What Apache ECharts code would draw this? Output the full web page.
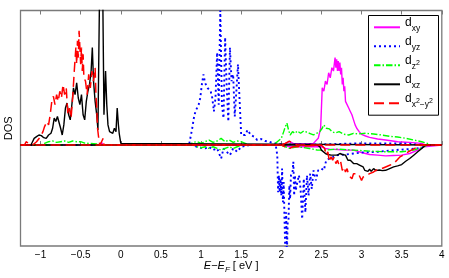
<!DOCTYPE html>
<html><head><meta charset="utf-8">
<script src="https://cdn.jsdelivr.net/npm/echarts@6/dist/echarts.min.js"></script>
<style>html,body{margin:0;padding:0;background:#fff}#c{width:449px;height:278px}</style>
</head><body><div id="c"></div>
<script>
// x tick labels
const xTicks = [-1, -0.5, 0, 0.5, 1, 1.5, 2, 2.5, 3, 3.5, 4];
const orbitals = ['dxy', 'dyz', 'dz2', 'dxz', 'dx2y2'];
const legendLabels = {
  dxy: '{d|d}{sub|xy}',
  dyz: '{d|d}{sub|yz}',
  dz2: '{d|d}{sub|z}{sup|2}',
  dxz: '{d|d}{sub|xz}',
  dx2y2: '{d|d}{sub|x}{sup|2}{sub|\u2212y}{sup|2}'
};
// [energy (eV), DOS] spin up (positive) and spin down (negative)
const dxyUp = [[-1.25,0],[-0.26,0],[-0.24,0.08],[-0.22,0],[2.0,0],[2.05,0.05],[2.1,0.1],[2.15,0.05],[2.3,0.03],[2.4,0.05],[2.46,0.2],[2.49,0.5],[2.51,1.7],[2.53,1.6],[2.55,1.9],[2.57,1.8],[2.59,2.15],[2.61,2.0],[2.63,2.3],[2.65,2.2],[2.67,2.6],[2.68,2.3],[2.69,2.55],[2.7,2.2],[2.71,2.5],[2.72,2.2],[2.73,2.45],[2.74,2.1],[2.75,2.3],[2.76,1.8],[2.77,2.0],[2.78,1.6],[2.79,1.75],[2.8,1.3],[2.82,1.35],[2.84,1.1],[2.86,1.0],[2.88,0.9],[2.9,0.75],[2.92,0.6],[2.94,0.5],[2.97,0.4],[3.0,0.32],[3.05,0.27],[3.1,0.23],[3.2,0.18],[3.3,0.15],[3.45,0.1],[3.6,0.08],[3.75,0.05],[3.8,0],[4,0]];
const dxyDn = [[-1.25,0],[2.0,0],[2.1,-0.05],[2.5,-0.05],[2.55,-0.1],[2.6,-0.12],[2.7,-0.13],[2.8,-0.15],[2.9,-0.15],[3.0,-0.22],[3.1,-0.28],[3.2,-0.3],[3.3,-0.32],[3.4,-0.31],[3.5,-0.3],[3.6,-0.25],[3.7,-0.15],[3.78,-0.05],[3.8,0],[4,0]];
const dyzUp = [[-1.25,0],[0.85,0],[0.87,0.05],[0.89,0.5],[0.91,0.8],[0.93,1.0],[0.95,0.95],[0.97,1.2],[0.99,1.4],[1.01,1.8],[1.03,2.1],[1.05,1.85],[1.07,1.9],[1.08,1.7],[1.1,1.75],[1.12,1.6],[1.14,1.4],[1.16,1.0],[1.18,1.4],[1.2,2.75],[1.22,1.2],[1.24,4.0],[1.26,1.2],[1.28,0.8],[1.3,3.2],[1.32,1.7],[1.34,0.7],[1.36,2.9],[1.38,1.9],[1.4,2.1],[1.42,0.85],[1.44,1.6],[1.46,2.4],[1.48,1.35],[1.5,0.3],[1.52,0.35],[1.55,0.3],[1.58,0.45],[1.62,0.3],[1.66,0.25],[1.7,0.15],[1.75,0.18],[1.8,0.12],[1.85,0.1],[1.9,0.05],[1.95,0.05],[2.0,0.02],[2.5,0.02],[3.0,0.05],[3.5,0.05],[3.8,0],[4,0]];
const dyzDn = [[-1.25,0],[0.9,0],[0.95,-0.05],[1.0,-0.08],[1.05,-0.1],[1.1,-0.05],[1.15,-0.15],[1.2,-0.1],[1.25,-0.4],[1.28,-0.1],[1.32,-0.2],[1.36,-0.3],[1.4,-0.1],[1.45,-0.2],[1.5,-0.05],[1.6,0],[1.93,0],[1.95,-0.3],[1.96,-1.4],[1.97,-0.9],[1.98,-1.4],[1.99,-1.0],[2.0,-1.5],[2.01,-0.7],[2.02,-1.7],[2.03,-1.1],[2.04,-2.2],[2.05,-3.2],[2.06,-2.0],[2.07,-3.2],[2.08,-2.3],[2.09,-2.2],[2.1,-1.2],[2.11,-1.6],[2.12,-0.9],[2.14,-0.8],[2.15,-0.5],[2.16,-1.5],[2.17,-0.9],[2.18,-1.35],[2.2,-1.1],[2.22,-0.9],[2.24,-1.3],[2.26,-2.2],[2.28,-1.0],[2.3,-2.0],[2.32,-0.9],[2.34,-1.5],[2.36,-0.85],[2.38,-1.3],[2.4,-0.75],[2.43,-1.05],[2.46,-0.75],[2.5,-0.7],[2.53,-0.75],[2.56,-0.45],[2.6,-0.4],[2.65,-0.35],[2.7,-0.3],[2.8,-0.28],[2.9,-0.25],[3.0,-0.22],[3.2,-0.2],[3.4,-0.15],[3.6,-0.12],[3.75,-0.08],[3.8,0],[4,0]];
const dz2Up = [[-1.25,0],[-1.0,0],[-0.95,0.05],[-0.9,0.1],[-0.85,0.12],[-0.8,0.08],[-0.75,0.1],[-0.7,0.12],[-0.65,0.08],[-0.6,0.12],[-0.55,0.1],[-0.5,0.1],[-0.45,0.06],[-0.4,0.05],[-0.3,0.03],[-0.2,0],[0.85,0],[0.9,0.08],[0.95,0.1],[1.0,0.05],[1.05,0.1],[1.1,0.15],[1.15,0.08],[1.2,0.12],[1.25,0.2],[1.3,0.1],[1.35,0.15],[1.4,0.08],[1.45,0.12],[1.5,0.1],[1.55,0.05],[1.6,0],[1.9,0],[1.95,0.1],[2.0,0.2],[2.03,0.4],[2.05,0.55],[2.07,0.65],[2.09,0.45],[2.11,0.3],[2.14,0.4],[2.17,0.35],[2.2,0.42],[2.24,0.35],[2.28,0.42],[2.32,0.38],[2.36,0.34],[2.4,0.3],[2.44,0.35],[2.48,0.4],[2.51,0.5],[2.53,0.6],[2.56,0.5],[2.6,0.48],[2.63,0.4],[2.67,0.36],[2.72,0.4],[2.78,0.32],[2.84,0.3],[2.9,0.35],[2.96,0.33],[3.05,0.35],[3.15,0.33],[3.25,0.3],[3.35,0.26],[3.45,0.24],[3.55,0.2],[3.65,0.15],[3.75,0.1],[3.82,0.05],[3.85,0],[4,0]];
const dz2Dn = [[-1.25,0],[0.9,0],[0.95,-0.05],[1.0,-0.08],[1.05,-0.05],[1.1,-0.1],[1.15,-0.05],[1.2,-0.1],[1.25,-0.15],[1.3,-0.1],[1.35,-0.05],[1.4,-0.1],[1.45,-0.05],[1.5,0],[2.0,0],[2.05,-0.05],[2.1,-0.1],[2.2,-0.05],[2.35,-0.1],[2.45,-0.15],[2.55,-0.15],[2.7,-0.12],[2.9,-0.15],[3.1,-0.18],[3.3,-0.2],[3.5,-0.2],[3.65,-0.15],[3.75,-0.08],[3.82,0],[4,0]];
const dxzUp = [[-1.25,0],[-1.12,0],[-1.1,0.1],[-1.08,0.2],[-1.05,0.25],[-1.02,0.3],[-0.99,0.28],[-0.96,0.22],[-0.93,0.2],[-0.9,0.3],[-0.87,0.35],[-0.85,0.5],[-0.83,0.8],[-0.81,0.7],[-0.79,0.85],[-0.77,0.8],[-0.75,0.5],[-0.73,0.3],[-0.71,0.6],[-0.69,1.1],[-0.67,1.25],[-0.65,0.9],[-0.63,0.75],[-0.61,1.2],[-0.59,1.7],[-0.57,1.5],[-0.55,1.85],[-0.53,1.4],[-0.51,1.2],[-0.49,1.5],[-0.47,0.9],[-0.45,0.75],[-0.43,1.3],[-0.41,1.6],[-0.39,1.8],[-0.37,2.2],[-0.355,2.9],[-0.34,1.9],[-0.32,1.3],[-0.3,0.9],[-0.285,0.45],[-0.265,4.5],[-0.225,4.5],[-0.21,0.9],[-0.19,2.2],[-0.175,1.2],[-0.16,0.6],[-0.14,0.4],[-0.12,0.45],[-0.1,0.35],[-0.08,0.5],[-0.06,0.4],[-0.045,1.1],[-0.03,0.6],[-0.02,0.35],[-0.01,0.3],[0,0.05],[0.01,0],[4,0]];
const dxzDn = [[-1.25,0],[2.45,0],[2.48,-0.05],[2.5,-0.15],[2.52,-0.2],[2.55,-0.25],[2.58,-0.28],[2.62,-0.3],[2.66,-0.3],[2.7,-0.3],[2.73,-0.25],[2.76,-0.28],[2.8,-0.3],[2.83,-0.45],[2.86,-0.45],[2.9,-0.55],[2.94,-0.55],[2.98,-0.6],[3.02,-0.65],[3.04,-0.75],[3.06,-0.7],[3.08,-0.78],[3.1,-0.72],[3.12,-0.78],[3.15,-0.7],[3.18,-0.76],[3.22,-0.74],[3.26,-0.76],[3.3,-0.75],[3.35,-0.7],[3.4,-0.65],[3.45,-0.62],[3.5,-0.58],[3.55,-0.48],[3.6,-0.4],[3.65,-0.3],[3.7,-0.2],[3.75,-0.1],[3.8,0],[4,0]];
const dx2y2Up = [[-1.25,0],[-1.2,0],[-1.18,0.1],[-1.15,0.05],[-1.1,0.0],[-1.05,0.1],[-1.0,0.25],[-0.97,0.4],[-0.95,0.55],[-0.92,0.7],[-0.9,0.6],[-0.88,0.9],[-0.86,1.3],[-0.84,1.45],[-0.82,1.2],[-0.8,1.5],[-0.78,1.3],[-0.76,1.6],[-0.74,1.4],[-0.72,1.8],[-0.7,1.5],[-0.68,1.7],[-0.66,0.9],[-0.64,1.1],[-0.62,0.8],[-0.6,1.4],[-0.58,2.2],[-0.56,2.9],[-0.55,2.4],[-0.54,3.1],[-0.53,2.6],[-0.52,3.4],[-0.51,2.9],[-0.5,2.4],[-0.49,2.9],[-0.48,2.2],[-0.47,2.7],[-0.46,2.0],[-0.44,1.9],[-0.42,1.5],[-0.4,2.1],[-0.38,1.7],[-0.36,2.2],[-0.34,1.9],[-0.32,2.3],[-0.31,1.5],[-0.3,1.1],[-0.29,0.5],[-0.28,0.3],[-0.27,0.1],[-0.26,0],[-0.24,0.1],[-0.22,0.2],[-0.21,0],[2.0,0],[2.05,0.05],[2.1,0.12],[2.15,0.05],[2.2,0],[4,0]];
const dx2y2Dn = [[-1.25,0],[2.0,0],[2.05,-0.05],[2.1,-0.1],[2.15,-0.05],[2.5,0],[2.54,-0.1],[2.56,-0.3],[2.58,-0.2],[2.6,-0.5],[2.62,-0.35],[2.64,-0.45],[2.66,-0.35],[2.68,-0.55],[2.7,-0.45],[2.72,-0.6],[2.74,-0.5],[2.76,-0.75],[2.78,-0.65],[2.8,-0.8],[2.82,-0.7],[2.84,-0.9],[2.86,-0.95],[2.88,-1.0],[2.9,-0.85],[2.93,-0.85],[2.96,-0.85],[2.98,-0.95],[3.0,-1.05],[3.02,-0.95],[3.04,-1.0],[3.06,-0.9],[3.08,-0.95],[3.1,-0.85],[3.15,-0.8],[3.2,-0.72],[3.25,-0.7],[3.3,-0.65],[3.35,-0.6],[3.4,-0.55],[3.44,-0.45],[3.48,-0.35],[3.55,-0.25],[3.62,-0.15],[3.7,-0.05],[3.75,0],[4,0]];

const seriesData = {
  dxy: [dxyUp, dxyDn], dyz: [dyzUp, dyzDn], dz2: [dz2Up, dz2Dn],
  dxz: [dxzUp, dxzDn], dx2y2: [dx2y2Up, dx2y2Dn]
};
const styles = {
  dxy:   {color: '#ff00ff', type: 'solid', width: 1.4},
  dyz:   {color: '#0000ff', type: [2, 3], width: 1.9},
  dz2:   {color: '#00ff00', type: [6.5, 2, 1.5, 2], width: 1.4},
  dxz:   {color: '#000000', type: 'solid', width: 1.4},
  dx2y2: {color: '#ff0000', type: [10, 5], width: 1.5}
};

const series = [];
orbitals.forEach(function (k) {
  seriesData[k].forEach(function (d) {
    series.push({
      name: k, type: 'line', data: d, symbol: 'none', showSymbol: false,
      clip: true, animation: false,
      lineStyle: {color: styles[k].color, type: styles[k].type, width: styles[k].width},
      itemStyle: {color: styles[k].color}
    });
  });
});

const chart = echarts.init(document.getElementById('c'), null, {renderer: 'canvas'});
const font = 'Liberation Sans, Arial, sans-serif';
chart.setOption({
  animation: false,
  backgroundColor: '#fff',
  grid: {left: 20.5, right: 7.2, top: 10.5, bottom: 32, show: true, borderColor: '#7a7a7a', borderWidth: 1.3,
    containLabel: false, outerBoundsMode: 'none'},
  xAxis: [{
    type: 'value', min: -1.25, max: 4, position: 'bottom',
    axisLine: {show: false}, splitLine: {show: false},
    axisTick: {show: true, inside: true, length: 4, customValues: xTicks, lineStyle: {color: '#7a7a7a', width: 1}},
    axisLabel: {show: true, customValues: xTicks, margin: 4, color: '#000', fontFamily: font, fontSize: 10,
      formatter: function (v) { return String(v).replace('-', '\u2212'); }},
    name: '{i|E}{t|\u2212}{i|E}{sub|F}{t| [ eV ]}', nameLocation: 'middle', nameGap: 14,
    nameMoveOverlap: false,
    nameTextStyle: {color: '#000', fontFamily: font, fontSize: 11, verticalAlign: 'top',
      rich: {
        i: {fontStyle: 'italic', fontSize: 11, lineHeight: 11, fontFamily: font, color: '#000', verticalAlign: 'middle'},
        sub: {fontStyle: 'italic', fontSize: 8, lineHeight: 8, fontFamily: font, color: '#000', verticalAlign: 'middle', padding: [9, 0, 0, 0]},
        t: {fontSize: 11, lineHeight: 11, fontFamily: font, color: '#000', verticalAlign: 'middle'}
      }}
  }, {
    type: 'value', min: -1.25, max: 4, position: 'top',
    axisLine: {show: false}, splitLine: {show: false},
    axisTick: {show: true, inside: true, length: 4, customValues: xTicks, lineStyle: {color: '#7a7a7a', width: 1}},
    axisLabel: {show: false}
  }],
  yAxis: {
    type: 'value', min: -3, max: 4,
    axisLine: {show: false}, axisTick: {show: false}, axisLabel: {show: false}, splitLine: {show: false},
    name: 'DOS', nameLocation: 'middle', nameGap: 6, nameRotate: 90, nameMoveOverlap: false,
    nameTextStyle: {color: '#000', fontFamily: font, fontSize: 11}
  },
  legend: {
    orient: 'vertical', left: 373, top: 17.1, padding: 0, itemGap: -1.4,
    itemWidth: 26, itemHeight: 14,
    itemStyle: {opacity: 0, borderWidth: 0},
    data: orbitals,
    formatter: function (n) { return legendLabels[n]; },
    textStyle: {
      fontFamily: font, color: '#000', padding: [0, 0, 0, 0],
      rich: {
        d: {fontSize: 12, lineHeight: 12, fontFamily: font, color: '#000', verticalAlign: 'middle', padding: [0, 0, 8.4, 0]},
        sub: {fontSize: 8.5, lineHeight: 8.5, fontFamily: font, color: '#000', verticalAlign: 'middle', padding: [3.6, 0, 0, 0]},
        sup: {fontSize: 7, lineHeight: 7, fontFamily: font, color: '#000', verticalAlign: 'middle', padding: [0, 0, 4.6, 0]}
      }
    },
    selectedMode: false
  },
  graphic: [{
    type: 'rect', left: 368, top: 15, z: 0,
    shape: {width: 70, height: 99.7},
    style: {fill: '#fff', stroke: '#000', lineWidth: 1}
  }],
  series: series
});
</script>
</body></html>
